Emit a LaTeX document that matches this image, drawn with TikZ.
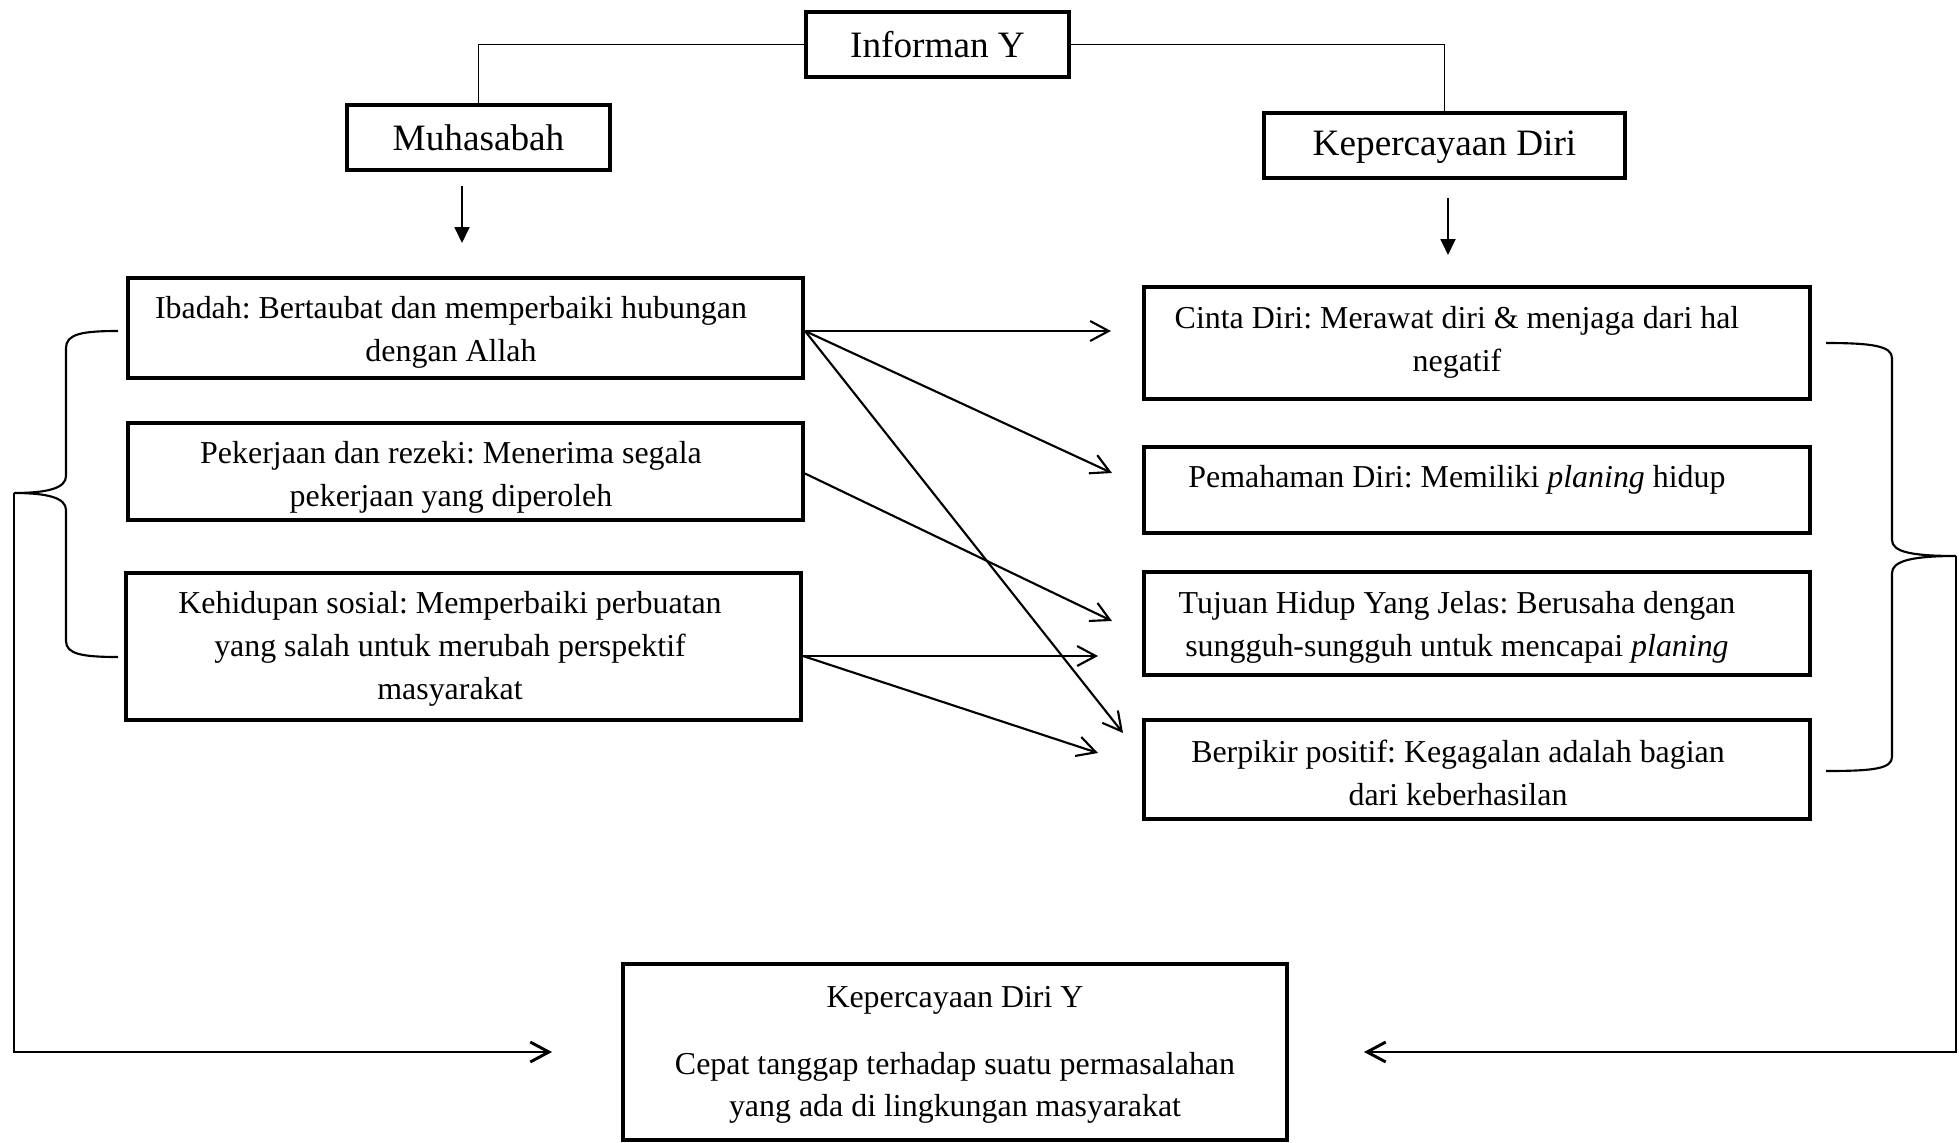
\documentclass[tikz,border=0pt]{standalone}
\usepackage{fontspec}
\setmainfont{Liberation Serif}
\usetikzlibrary{arrows.meta,calc}
\frenchspacing
\newcommand\unitpx{0.376pt}
\tikzset{
  box/.style={draw, line width=1.5pt, inner sep=0pt},
  body/.style={align=center, font=\fontsize{12pt}{16.1pt}\selectfont, inner sep=0pt},
  title/.style={font=\fontsize{14pt}{17pt}\selectfont},
  link/.style={line width=0.5pt},
  flow/.style={line width=0.8pt, -{Straight Barb[length=7pt,width=7.5pt]}},
  drop/.style={line width=0.8pt, -{Triangle[length=6pt,width=5.6pt]}},
  brace/.style={line width=0.8pt},
  loop/.style={line width=1.1pt, -{Straight Barb[length=7pt,width=7.5pt]}},
}
\begin{document}
\begin{tikzpicture}[x=\unitpx, y=-\unitpx]
\useasboundingbox (0,0) rectangle (1959,1143);

% top level
\node[box, title, minimum width=263*\unitpx, minimum height=65*\unitpx] (inf) at (937.5,44.5) {Informan Y};
\node[box, title, minimum width=263*\unitpx, minimum height=65*\unitpx] (muh) at (478.5,137.5) {Muhasabah};
\node[box, title, minimum width=361*\unitpx, minimum height=65*\unitpx, text depth=0.4ex] (kep) at (1444.5,145.5) {Kepercayaan Diri};

\draw[link] (inf.west) -| (muh.north);
\draw[link] (inf.east) -| (kep.north);

\coordinate (muhA) at (462,186);
\coordinate (muhB) at (462,243);
\coordinate (kepA) at (1448,198);
\coordinate (kepB) at (1448,255);
\draw[drop] (muhA) -- (muhB);
\draw[drop] (kepA) -- (kepB);

% muhasabah aspects
\node[box, minimum width=675*\unitpx, minimum height=100*\unitpx] (ibadah) at (465.5,328) {};
\node[body] (ibadahT) at (451,332) {Ibadah: Bertaubat dan memperbaiki hubungan\\dengan Allah};
\node[box, minimum width=675*\unitpx, minimum height=97*\unitpx] (pek) at (465.5,471.5) {};
\node[body] (pekT) at (451,477) {Pekerjaan dan rezeki: Menerima segala\\pekerjaan yang diperoleh};
\node[box, minimum width=675*\unitpx, minimum height=147*\unitpx] (keh) at (463.5,646.5) {};
\node[body] (kehT) at (450,649) {Kehidupan sosial: Memperbaiki perbuatan\\yang salah untuk merubah perspektif\\masyarakat};

% self-confidence aspects
\node[box, minimum width=666*\unitpx, minimum height=112*\unitpx] (cinta) at (1477,343) {};
\node[body] (cintaT) at (1457,342) {Cinta Diri: Merawat diri \& menjaga dari hal\\negatif};
\node[box, minimum width=666*\unitpx, minimum height=86*\unitpx] (pem) at (1477,490) {};
\node[body] (pemT) at (1457,480) {Pemahaman Diri: Memiliki \textit{planing} hidup};
\node[box, minimum width=666*\unitpx, minimum height=103*\unitpx] (tuj) at (1477,623.5) {};
\node[body] (tujT) at (1457,627) {Tujuan Hidup Yang Jelas: Berusaha dengan\\sungguh-sungguh untuk mencapai \textit{planing}};
\node[box, minimum width=666*\unitpx, minimum height=99*\unitpx] (ber) at (1477,769.5) {};
\node[body] (berT) at (1458,773) {Berpikir positif: Kegagalan adalah bagian\\dari keberhasilan};

% result
\node[box, minimum width=664*\unitpx, minimum height=176*\unitpx] (hasil) at (955,1052) {};
\node[body] (hasilT) at (955,1055) {Kepercayaan Diri Y\\[9pt]Cepat tanggap terhadap suatu permasalahan\\yang ada di lingkungan masyarakat};

% links between aspects
\coordinate (t1) at (1111,331);
\coordinate (t2) at (1112,473);
\coordinate (t3) at (1123,733);
\coordinate (t4) at (1112,621);
\coordinate (t5) at (1098,656);
\coordinate (t6) at (1098,753);
\draw[flow] ([yshift=-3*\unitpx]ibadah.east) -- (t1);
\draw[flow] ([yshift=-3*\unitpx]ibadah.east) -- (t2);
\draw[flow] ([yshift=-3*\unitpx]ibadah.east) -- (t3);
\draw[flow] ([yshift=-2*\unitpx]pek.east) -- (t4);
\draw[flow] ([yshift=-9.5*\unitpx]keh.east) -- (t5);
\draw[flow] ([yshift=-9.5*\unitpx]keh.east) -- (t6);

% braces
\coordinate (lTip) at (14,493);
\coordinate (rTip) at (1956,556);
\draw[brace] (118,331) .. controls (82,331) and (66,334) .. (66,348) -- (66,476)
  .. controls (66,488) and (48,493) .. (lTip)
  .. controls (48,493) and (66,498) .. (66,510) -- (66,641)
  .. controls (66,654) and (82,657) .. (118,657);
\draw[brace] (1826,343) .. controls (1872,343) and (1892,346) .. (1892,358) -- (1892,540)
  .. controls (1892,552) and (1912,556) .. (rTip)
  .. controls (1912,556) and (1892,561) .. (1892,573) -- (1892,757)
  .. controls (1892,769) and (1872,771) .. (1826,771);

% feedback into the result
\coordinate (lEnd) at (552,1052);
\coordinate (rEnd) at (1364,1052);
\draw[loop] (lTip) |- (lEnd);
\draw[loop] (rTip) |- (rEnd);
\end{tikzpicture}
\end{document}
